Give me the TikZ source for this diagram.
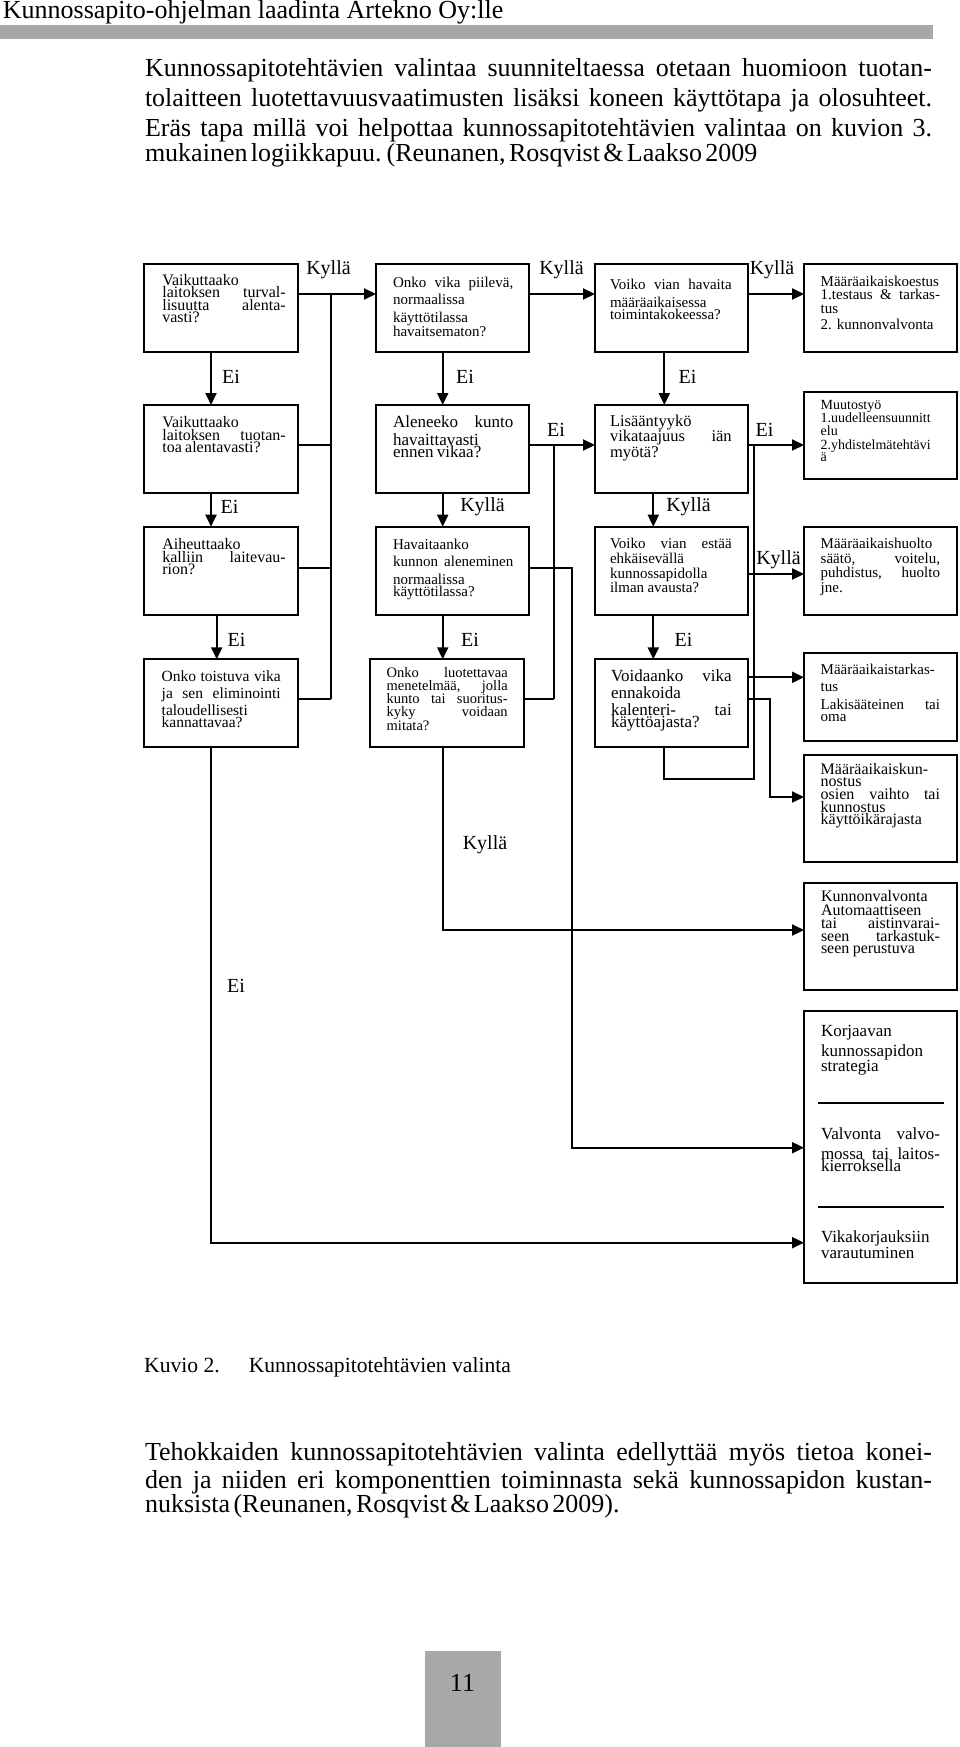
\documentclass[tikz,border=0pt]{standalone}
\usepackage{fontspec}
\setmainfont{Liberation Serif}
\usetikzlibrary{calc,arrows.meta}
\definecolor{barg}{RGB}{168,168,168}
\newcommand\fs[2]{\fontsize{#1pt}{#2pt}\selectfont\lineskiplimit=-100pt\lineskip=0pt\relax}
\newcommand\J[1]{\leavevmode\hbox to \hsize{\spaceskip=0.25em plus 1fil\relax #1}}
\begin{document}
\begin{tikzpicture}[x=1pt,y=-1pt,
 bx/.style={draw,line width=2pt,anchor=north west,inner sep=0pt,outer sep=0pt},
 tx/.style={anchor=base west,inner sep=0pt,outer sep=0pt,align=left},
 lab/.style={inner sep=0pt,font=\fs{20}{24}},
 ar/.style={line width=2pt,-{Triangle[length=12pt,width=11pt]}},
 ln/.style={line width=2pt},
 sep/.style={line width=1.8pt}]
\useasboundingbox (0,0) rectangle (960,1747);
% header
\node[anchor=base west,inner sep=0pt] (hdr) at (2.7,18.3) {\fs{26}{31}Kunnossapito-ohjelman laadinta Artekno Oy:lle};
\fill[barg] (0,25) rectangle (933,39.3);
\node[tx,text width=787pt] (par1) at (145,77) {\fs{26}{30}\J{Kunnossapitotehtävien valintaa suunniteltaessa otetaan huomioon tuotan-}\\\J{tolaitteen luotettavuusvaatimusten lisäksi koneen käyttötapa ja olosuhteet.}\\\J{Eräs tapa millä voi helpottaa kunnossapitotehtävien valintaa on kuvion 3.}\\mukainen logiikkapuu. (Reunanen, Rosqvist \& Laakso 2009};
% boxes
\node[bx,minimum width=153.7pt,minimum height=88pt] (A1) at (144,264) {};
\node[bx,minimum width=153pt,minimum height=88pt] (B1) at (376,264) {};
\node[bx,minimum width=152.7pt,minimum height=88pt] (C1) at (595,264) {};
\node[bx,minimum width=153pt,minimum height=88pt] (D1) at (804,264) {};
\node[bx,minimum width=153.7pt,minimum height=88pt] (A2) at (144,405) {};
\node[bx,minimum width=153pt,minimum height=88pt] (B2) at (376,405) {};
\node[bx,minimum width=152.7pt,minimum height=88pt] (C2) at (595,405) {};
\node[bx,minimum width=153pt,minimum height=87.6pt] (D2) at (804,391.7) {};
\node[bx,minimum width=153.7pt,minimum height=88.3pt] (A3) at (144,526.7) {};
\node[bx,minimum width=153pt,minimum height=88.3pt] (B3) at (376,526.7) {};
\node[bx,minimum width=152.7pt,minimum height=88.3pt] (C3) at (595,526.7) {};
\node[bx,minimum width=153pt,minimum height=88.3pt] (D3) at (804,526.7) {};
\node[bx,minimum width=153.7pt,minimum height=87.4pt] (A4) at (144,659.3) {};
\node[bx,minimum width=154pt,minimum height=87.4pt] (B4) at (370,659.3) {};
\node[bx,minimum width=152.7pt,minimum height=87.4pt] (C4) at (595,659.3) {};
\node[bx,minimum width=153pt,minimum height=87.7pt] (D4) at (804,653.3) {};
\node[bx,minimum width=153pt,minimum height=106.7pt] (D5) at (804,755) {};
\node[bx,minimum width=153pt,minimum height=107pt] (D6) at (804,883) {};
\node[bx,minimum width=153pt,minimum height=272pt] (D7) at (804,1011) {};
% box texts
\node[tx,text width=123.4pt] (A1t) at (162.3,285) {\fs{16}{12.9}Vaikuttaako\\\J{laitoksen turval-}\\\J{lisuutta alenta-}\\vasti?};
\node[tx,text width=120.3pt] (B1t) at (393,287.3) {\fs{15}{17.4}\J{Onko vika piilevä,}\\normaalissa\\käyttötilassa\\havaitsematon?};
\node[tx,text width=121.7pt] (C1t) at (610,289.3) {\fs{15}{18.3}\J{Voiko vian havaita}\\määräaikaisessa\\toimintakokeessa?};
\node[tx,text width=119.3pt] (D1t) at (820.7,286) {\fs{15}{13.9}Määräaikaiskoestus\\\J{1.testaus \& tarkas-}\\tus\\[3.4pt]2. kunnonvalvonta};
\node[tx,text width=123.4pt] (A2t) at (162.3,427.3) {\fs{16}{13}Vaikuttaako\\\J{laitoksen tuotan-}\\toa alentavasti?};
\node[tx,text width=120.3pt] (B2t) at (393,427.7) {\fs{17}{17.3}\J{Aleneeko kunto}\\havaittavasti\\ennen vikaa?};
\node[tx,text width=121.7pt] (C2t) at (610,426.7) {\fs{16.5}{15}Lisääntyykö\\\J{vikataajuus iän}\\myötä?};
\node[tx,text width=119.3pt] (D2t) at (820.7,409.3) {\fs{14}{13.3}Muutostyö\\1.uudelleensuunnitt\\elu\\2.yhdistelmätehtävi\\ä};
\node[tx,text width=123.4pt] (A3t) at (162.3,549.3) {\fs{16}{12.9}Aiheuttaako\\\J{kalliin laitevau-}\\rion?};
\node[tx,text width=120.3pt] (B3t) at (393,549.3) {\fs{15}{17.5}Havaitaanko\\\J{kunnon aleneminen}\\normaalissa\\käyttötilassa?};
\node[tx,text width=121.7pt] (C3t) at (610,548.3) {\fs{15}{15}\J{Voiko vian estää}\\ehkäisevällä\\kunnossapidolla\\ilman avausta?};
\node[tx,text width=119.3pt] (D3t) at (820.7,548.3) {\fs{15}{14.8}Määräaikaishuolto\\\J{säätö, voitelu,}\\\J{puhdistus, huolto}\\jne.};
\node[tx,text width=119pt] (A4t) at (161.7,681.7) {\fs{15.5}{17}\J{Onko toistuva vika}\\\J{ja sen eliminointi}\\taloudellisesti\\kannattavaa?};
\node[tx,text width=121pt] (B4t) at (386.7,677.3) {\fs{14.5}{13}\J{Onko luotettavaa}\\\J{menetelmää, jolla}\\\J{kunto tai suoritus-}\\\J{kyky voidaan}\\mitata?};
\node[tx,text width=120.7pt] (C4t) at (611,681.7) {\fs{17}{17}\J{Voidaanko vika}\\ennakoida\\\J{kalenteri- tai}\\käyttöajasta?};
\node[tx,text width=119.3pt] (D4t) at (820.7,674) {\fs{15}{17.7}Määräaikaistarkas-\\tus\\\J{Lakisääteinen tai}\\oma};
\node[tx,text width=119.3pt] (D5t) at (820.7,774) {\fs{16}{12.8}Määräaikaiskun-\\nostus\\\J{osien vaihto tai}\\kunnostus\\käyttöikärajasta};
\node[tx,text width=119pt] (D6t) at (821,901.7) {\fs{16}{13.3}Kunnonvalvonta\\Automaattiseen\\\J{tai aistinvarai-}\\\J{seen tarkastuk-}\\seen perustuva};
\node[tx,text width=119pt] (D7a) at (821,1036.7) {\fs{17}{19.3}Korjaavan\\kunnossapidon\\strategia};
\node[tx,text width=119pt] (D7b) at (821,1139.3) {\fs{17}{20}\J{Valvonta valvo-}\\\J{mossa tai laitos-}\\kierroksella};
\node[tx,text width=119pt] (D7c) at (821,1242.7) {\fs{17}{20.6}Vikakorjauksiin\\varautuminen};
\draw[sep] ($(D7.north west)+(13.7,92.3)$) -- ($(D7.north west)+(140,92.3)$);
\draw[sep] ($(D7.north west)+(13.7,196.3)$) -- ($(D7.north west)+(140,196.3)$);
% labels
\node[lab] (L1) at (328.5,270) {Kyllä};
\node[lab] (L2) at (561.5,270) {Kyllä};
\node[lab] (L3) at (772,270) {Kyllä};
\node[lab] (E1) at (231,377) {Ei};
\node[lab] (E2) at (465,377) {Ei};
\node[lab] (E3) at (687.5,377) {Ei};
\node[lab] (E4) at (229.5,507) {Ei};
\node[lab] (K4) at (482.5,507) {Kyllä};
\node[lab] (E5) at (556,430) {Ei};
\node[lab] (E6) at (764.5,430) {Ei};
\node[lab] (K5) at (688.5,507) {Kyllä};
\node[lab] (K6) at (778.5,560) {Kyllä};
\node[lab] (E7) at (236.5,640) {Ei};
\node[lab] (E8) at (470,640) {Ei};
\node[lab] (E9) at (683.5,640) {Ei};
\node[lab] (K7) at (485,845) {Kyllä};
\node[lab] (E10) at (236,986) {Ei};
% junction coordinates
\coordinate (ya) at (330.7,294);
\coordinate (yb) at (330.7,699.3);
\coordinate (na) at (554.3,445);
\coordinate (nb) at (554.3,699.3);
\coordinate (ca) at (754.3,445);
\coordinate (cb) at (754.3,779);
\coordinate (vb) at (571.7,1147.7);
\coordinate (kb) at (770,797);
% connectors row 1
\draw[ar] ($(A1.north east)+(0,30)$) -- ($(B1.north west)+(0,30)$);
\draw[ar] ($(B1.north east)+(0,30)$) -- ($(C1.north west)+(0,30)$);
\draw[ar] ($(C1.north east)+(0,30)$) -- ($(D1.north west)+(0,30)$);
\draw[ln] (ya) -- (yb);
\draw[ln] ($(A2.north east)+(0,40)$) -| (yb);
\draw[ln] ($(A3.north east)+(0,41.6)$) -| (yb);
\draw[ln] ($(A4.north east)+(0,40)$) -- (yb);
% vertical arrows
\draw[ar] ($(A1.south west)+(67,0)$) -- ($(A2.north west)+(67,0)$);
\draw[ar] ($(A2.south west)+(67,0)$) -- ($(A3.north west)+(67,0)$);
\draw[ar] ($(A3.south west)+(72.7,0)$) -- ($(A4.north west)+(72.7,0)$);
\draw[ar] ($(B1.south west)+(66.7,0)$) -- ($(B2.north west)+(66.7,0)$);
\draw[ar] ($(B2.south west)+(66.7,0)$) -- ($(B3.north west)+(66.7,0)$);
\draw[ar] ($(B3.south west)+(66.7,0)$) -- ($(B4.north west)+(72.7,0)$);
\draw[ar] ($(C1.south west)+(69.3,0)$) -- ($(C2.north west)+(69.3,0)$);
\draw[ar] ($(C2.south west)+(58.3,0)$) -- ($(C3.north west)+(58.3,0)$);
\draw[ar] ($(C3.south west)+(58.3,0)$) -- ($(C4.north west)+(58.3,0)$);
% horizontal arrows
\draw[ar] ($(B2.north east)+(0,40)$) -- ($(C2.north west)+(0,40)$);
\draw[ln] (na) -- (nb);
\draw[ln] ($(B4.north east)+(0,40)$) -- (nb);
\draw[ar] ($(C2.north east)+(0,40)$) -- ($(D2.north west)+(0,53.3)$);
\draw[ln] (ca) -- (cb) -| ($(C4.south west)+(69.3,0)$);
\draw[ar] ($(C3.north east)+(0,47.3)$) -- ($(D3.north west)+(0,47.3)$);
\draw[ar] ($(C4.north east)+(0,18)$) -- ($(D4.north west)+(0,24)$);
\draw[ar] ($(C4.north east)+(0,40)$) -| (kb) -- ($(D5.north west)+(0,42)$);
\draw[ar] ($(B3.north east)+(0,41.6)$) -| (vb) -- ($(D7.north west)+(0,136.7)$);
\draw[ar] ($(B4.south west)+(72.7,0)$) |- ($(D6.north west)+(0,47)$);
\draw[ar] ($(A4.south west)+(66.7,0)$) |- ($(D7.north west)+(0,231.7)$);
% caption and text
\node[anchor=base west,inner sep=0pt] (cap1) at (144,1372.5) {\fs{21.6}{26}Kuvio 2.};
\node[anchor=base west,inner sep=0pt] (cap2) at (248.6,1372.5) {\fs{21.6}{26}Kunnossapitotehtävien valinta};
\node[tx,text width=787pt] (par2) at (145,1460) {\fs{26}{28.3}\J{Tehokkaiden kunnossapitotehtävien valinta edellyttää myös tietoa konei-}\\\J{den ja niiden eri komponenttien toiminnasta sekä kunnossapidon kustan-}\\nuksista (Reunanen, Rosqvist \& Laakso 2009).};
% page number
\fill[barg] (425,1651) rectangle (500.7,1747);
\node[inner sep=0pt] (pg) at (462.5,1683) {\fs{26}{31}11};
\end{tikzpicture}
\end{document}
